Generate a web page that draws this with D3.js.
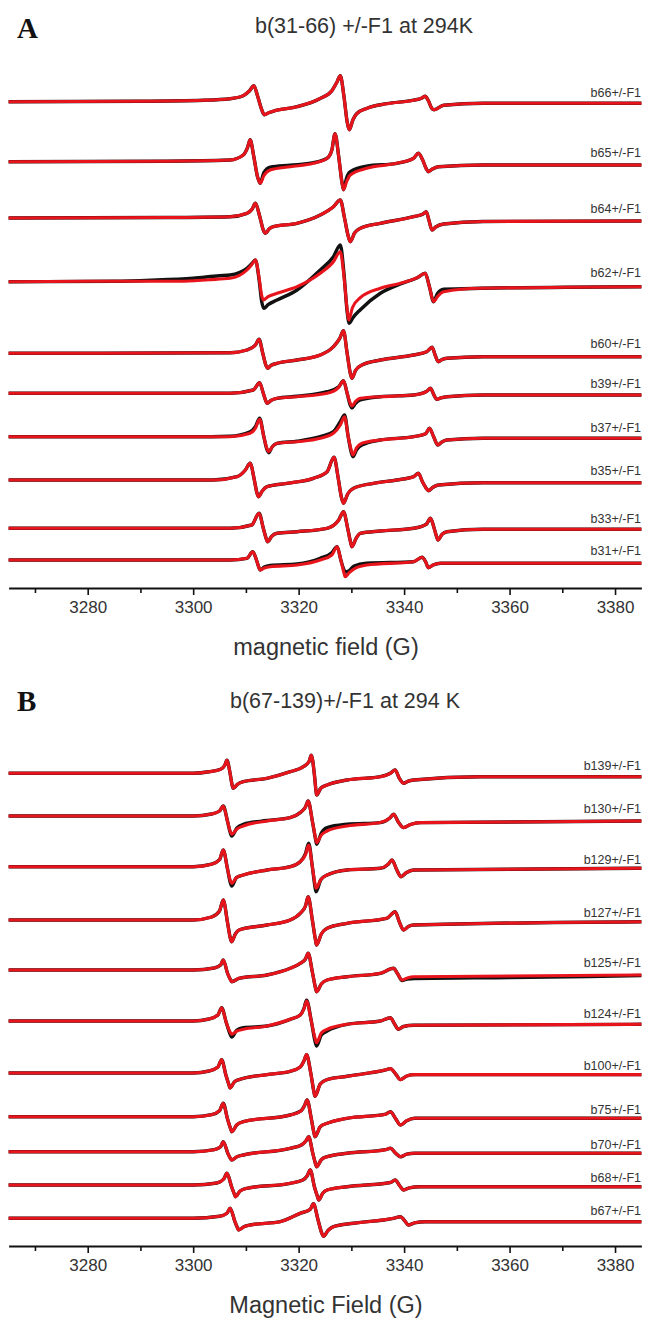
<!DOCTYPE html>
<html>
<head>
<meta charset="utf-8">
<script src="https://cdn.jsdelivr.net/npm/d3@7"></script>
<style>
  body { margin: 0; background: #fff; }
  svg { display: block; font-family: "Liberation Sans", Arial, sans-serif; }
</style>
</head>
<body>
<div id="chart"></div>
<script>
// ---- data: field in G, signal as [field, intensity] ----

const fieldDomain = [3265, 3385];
const majorTicks = [3280, 3300, 3320, 3340, 3360, 3380];
const minorTicks = [3270, 3290, 3310, 3330, 3350, 3370];

// panel A
const labelsA = ["b66+/-F1", "b65+/-F1", "b64+/-F1", "b62+/-F1", "b60+/-F1",
  "b39+/-F1", "b37+/-F1", "b35+/-F1", "b33+/-F1", "b31+/-F1"];
const offsetsA = [486.3, 426.3, 370, 306.3, 234.7, 194.7, 151.3, 108, 59.7, 28];

const redA66 = [[3265,0],[3290,0.5],[3302,1.5],[3307,3],[3309.5,6],[3310.7,11],[3311.5,16],[3312.2,6],[3313,-8],[3313.5,-13],[3314.3,-11],[3315.5,-9],[3319.7,-5],[3324,3],[3326.3,11],[3327.3,20],[3327.9,26],[3328.6,5],[3329.2,-20],[3329.6,-28],[3330.3,-18],[3331,-12],[3333,-6.5],[3336.7,-2],[3341.8,1.5],[3343.3,3.5],[3344,5.5],[3344.6,1],[3345.3,-7],[3345.7,-8],[3347.5,-3.5],[3355,-1.5],[3385,-1.5]];
const redA65 = [[3265,0],[3295,0.5],[3307,1.7],[3309.5,6.7],[3310.3,14],[3310.8,22],[3311.5,5],[3312.2,-15],[3312.7,-21.6],[3313.4,-14],[3314.6,-8.3],[3318.4,-5],[3322.8,-1.6],[3325.4,3.4],[3326.3,11.7],[3326.9,28],[3327.6,5],[3328.2,-20],[3328.5,-28],[3329.1,-20],[3329.8,-13.3],[3332.9,-6.6],[3338.6,-1.6],[3341.8,3.4],[3342.7,8.4],[3343.5,2],[3344.2,-7],[3344.6,-10],[3345.3,-7.5],[3346.5,-5],[3355,-3.3],[3385,-3.3]];
const blackA65 = [[3265,0],[3295,0.5],[3307,1.7],[3309.5,6.7],[3310.3,14],[3310.8,22],[3311.5,5],[3312.2,-15],[3312.7,-21.6],[3313.4,-11],[3314.6,-5.5],[3318.4,-3.5],[3322.8,-1],[3325.4,3.4],[3326.3,11.7],[3326.9,28],[3327.6,5],[3328.2,-20],[3328.5,-28],[3329.1,-16],[3329.8,-10],[3332.9,-4.5],[3338.6,-1.6],[3341.8,3.4],[3342.7,8.4],[3343.5,2],[3344.2,-7],[3344.6,-10],[3345.3,-7.5],[3346.5,-5],[3355,-3.3],[3385,-3.3]];
const redA64 = [[3265,0],[3295,0.5],[3307,1.3],[3310.2,4.7],[3311.2,9],[3311.8,14.7],[3312.6,2],[3313.3,-12],[3313.7,-15.3],[3314.4,-11],[3315.2,-8.7],[3319.7,-5.3],[3324.1,3],[3326.6,11.3],[3327.9,18],[3328.7,0],[3329.4,-18],[3329.8,-23.7],[3330.6,-15],[3331.7,-10.3],[3335.5,-5.3],[3341.8,1.3],[3343.6,4],[3344.2,6.3],[3344.7,-2],[3345.3,-12],[3346,-9],[3347.5,-6],[3355,-3.5],[3385,-3]];
const redA62 = [[3265,0],[3285,0.5],[3297.5,0.5],[3303,2],[3307,3.4],[3310.2,11.7],[3311.1,17],[3311.8,21.7],[3312.5,4],[3313,-14],[3313.3,-18.3],[3314.2,-15],[3315.9,-11.6],[3319.7,-5],[3324.1,8.4],[3326.6,20],[3327.9,30],[3328.6,5],[3329.2,-28],[3329.5,-38.3],[3330.2,-26],[3331.7,-16],[3335.5,-6.6],[3339.3,-1.6],[3342.5,4],[3344,8.4],[3344.8,-5],[3345.6,-20],[3346.3,-15],[3347.5,-10],[3354.5,-6.6],[3385,-5]];
const blackA62 = [[3265,0],[3285,0.5],[3292,1.5],[3300,3.5],[3305,6],[3307,6.7],[3310.2,13.4],[3311.1,18],[3311.8,21.7],[3312.5,2],[3313,-20],[3313.4,-26.6],[3314.2,-23],[3315.9,-18.3],[3319.7,-8.3],[3324.1,11.7],[3326.6,25],[3327.9,36.7],[3328.6,8],[3329.2,-30],[3329.6,-41.6],[3330.3,-36],[3331.7,-28],[3335.5,-11.6],[3339.3,-2.3],[3342.5,4],[3344,8.4],[3344.8,-5],[3345.6,-20],[3346.3,-12],[3347.5,-7.6],[3354.5,-6.6],[3385,-5]];
const redA60 = [[3265,0],[3295,0.3],[3307,0.6],[3310.2,3.3],[3311.8,8.3],[3312.5,14],[3313.2,0],[3313.8,-12],[3314.1,-15],[3314.8,-12],[3315.9,-10],[3319.7,-6.7],[3324.1,-1.7],[3326.6,6.6],[3327.8,15],[3328.5,22.6],[3329.2,0],[3329.8,-20],[3330.1,-25],[3330.8,-17],[3332,-11.7],[3335.5,-6.7],[3341.8,-1.7],[3344.3,1.6],[3345.3,6],[3345.9,-2],[3346.5,-8.4],[3347.1,-6.5],[3348.1,-5],[3355,-3.4],[3385,-3.4]];
const redA39 = [[3265,0],[3300,0],[3307,0],[3311.4,3.3],[3312.6,10.6],[3313.3,0],[3313.8,-8],[3314,-10],[3314.8,-7],[3315.9,-5],[3319.7,-3.4],[3325.4,0],[3327.6,6],[3328.5,12.6],[3329.2,0],[3329.8,-10],[3330.1,-12.7],[3330.8,-8],[3331.7,-5],[3335.5,-3.4],[3341.8,-1.7],[3344.3,2],[3345,5],[3345.6,-1],[3346.2,-6],[3347,-4.5],[3348.1,-3.4],[3355,-1.7],[3385,-1.7]];
const blackA39 = [[3265,0],[3300,0],[3307,0],[3311.4,3.3],[3312.6,10.6],[3313.3,0],[3313.8,-8],[3314,-10],[3314.8,-7],[3315.9,-5],[3319.7,-3],[3325.4,1.6],[3327.6,6.5],[3328.5,12.6],[3329.2,0],[3329.8,-12],[3330.1,-14.7],[3330.8,-10],[3331.7,-6.7],[3335.5,-3.4],[3341.8,-1.7],[3344.3,2],[3345,5],[3345.6,-1],[3346.2,-6],[3347,-4.5],[3348.1,-3.4],[3355,-1.7],[3385,-1.7]];
const redA37 = [[3265,0],[3300,0],[3307,0],[3310.8,3.4],[3311.8,8.4],[3312.6,17.4],[3313.4,0],[3314,-12],[3314.3,-15],[3315,-10],[3315.9,-6.6],[3319.7,-5],[3324.1,-1.6],[3326.6,3.4],[3327.9,11.7],[3328.7,20],[3329.4,0],[3330,-14],[3330.3,-18.3],[3331,-11],[3332,-6.6],[3335.5,-3.3],[3341.8,0],[3344.1,3],[3344.8,8.4],[3345.6,0],[3346.4,-8.3],[3347.1,-5.5],[3348.1,-3.3],[3355,-1.6],[3385,-1.6]];
const blackA37 = [[3265,0],[3300,0],[3307,0.5],[3310.8,5],[3311.8,10],[3312.6,18.4],[3313.4,0],[3314,-13],[3314.3,-16],[3315,-10],[3315.9,-6.6],[3319.7,-4.5],[3324.1,0],[3326.6,5],[3327.9,15],[3328.7,21.7],[3329.4,0],[3330,-16],[3330.3,-20],[3331,-13],[3332,-8.3],[3335.5,-3.3],[3341.8,0],[3344.1,3],[3344.8,8.4],[3345.6,0],[3346.4,-8.3],[3347.1,-5.5],[3348.1,-3.3],[3355,-1.6],[3385,-1.6]];
const redA35 = [[3265,0],[3303.8,0],[3308.3,3.3],[3309.9,10],[3310.8,16.7],[3311.6,0],[3312.1,-13],[3312.4,-16.7],[3313.1,-11],[3314,-6.7],[3317.8,-3.3],[3322.8,1.7],[3325.4,8.3],[3326.7,22.7],[3327.5,2],[3328.1,-17],[3328.5,-23.3],[3329.3,-14],[3330.4,-8.3],[3334.2,-3.3],[3338.6,0],[3341.8,3.3],[3342.7,6.7],[3343.5,-2],[3344.3,-9],[3344.6,-10.7],[3345.4,-7.5],[3346.5,-5],[3355,-2.7],[3385,-2.7]];
const redA33 = [[3265,0],[3307,0],[3311.1,3.3],[3312.5,15],[3313.3,0],[3313.9,-11],[3314.1,-13.4],[3314.9,-8],[3315.9,-5],[3319.7,-3.4],[3325.4,0],[3327.6,8.3],[3328.5,16.6],[3329.3,0],[3329.9,-15],[3330.1,-18.4],[3330.9,-10],[3331.7,-5],[3335.5,-2.7],[3341.8,0],[3344.2,4],[3345,10],[3345.7,0],[3346.2,-9],[3346.4,-11.7],[3347.2,-6],[3348.1,-3.4],[3355,-1],[3385,-1]];
const redA31 = [[3265,0],[3307,0],[3310.2,1.7],[3311.3,8.3],[3312,0],[3312.5,-8],[3312.7,-10],[3313.5,-8],[3314.6,-6.7],[3319.7,-5],[3324.1,0],[3326.3,5],[3327.3,13.3],[3328,0],[3328.6,-13],[3328.8,-16.7],[3329.6,-12.7],[3330.5,-9],[3332.9,-5],[3341.8,-1.7],[3343.4,2.7],[3344.1,-2],[3344.6,-7.7],[3345.5,-5],[3346.9,-3.3],[3355,-3.3],[3385,-3.3]];
const blackA31 = [[3265,0],[3307,0],[3310.2,1.7],[3311.3,8.3],[3312,0],[3312.5,-8],[3312.7,-10],[3313.5,-7],[3314.6,-5.5],[3319.7,-4],[3324.1,1.7],[3326.3,7.3],[3327.3,13.3],[3328,0],[3328.6,-10],[3328.8,-12],[3329.6,-10.7],[3330.5,-6],[3332.9,-3.3],[3341.8,-1.7],[3343.4,2.7],[3344.1,-2],[3344.6,-7.7],[3345.5,-5],[3346.9,-3.3],[3355,-3.3],[3385,-3.3]];

const redA = [redA66, redA65, redA64, redA62, redA60, redA39, redA37, redA35, redA33, redA31];
const blackA = [redA66, blackA65, redA64, blackA62, redA60, blackA39, blackA37, redA35, redA33, blackA31];

// panel B
const labelsB = ["b139+/-F1", "b130+/-F1", "b129+/-F1", "b127+/-F1", "b125+/-F1",
  "b124+/-F1", "b100+/-F1", "b75+/-F1", "b70+/-F1", "b68+/-F1", "b67+/-F1"];
const offsetsB = [472.7, 430, 379.3, 326, 276, 225, 173, 129.3, 94.3, 61, 27.7];

const redB139 = [[3265,0],[3300,0],[3303,1.5],[3305.2,4],[3306,8],[3306.4,13],[3307,0],[3307.4,-12],[3307.6,-15],[3308.4,-11],[3309.5,-8.4],[3314,-5],[3318.4,1.6],[3320.9,6.6],[3322,12],[3322.4,18],[3323,-2],[3323.3,-18],[3323.4,-21.7],[3324.2,-15],[3325.4,-11.7],[3329.2,-6.7],[3335.5,-3.4],[3337.4,0],[3338.3,3.3],[3339.1,-5],[3339.9,-10],[3340.7,-8],[3341.8,-6.7],[3354.5,-3.4],[3385,-3.4]];
const redB130 = [[3265,0],[3300,0],[3303.5,2],[3305,5],[3305.7,10],[3306.5,-5],[3307,-15],[3307.3,-18.3],[3308.3,-13],[3309.5,-10],[3314,-5],[3318.4,-1.6],[3320.3,3.4],[3321.3,9],[3321.8,15],[3322.6,-5],[3323.2,-22],[3323.4,-26.6],[3324.3,-19],[3325.4,-15],[3329.2,-10],[3335.5,-6.6],[3337.3,-2],[3338,1.7],[3338.9,-6],[3339.9,-11.6],[3341.2,-8.5],[3343.1,-6.6],[3385,-5]];
const blackB130 = [[3265,0],[3300,0],[3303.5,2],[3305,5],[3305.7,10],[3306.5,-5],[3307,-16],[3307.3,-20],[3308.3,-12],[3309.5,-8.3],[3314,-4.5],[3318.4,-1.6],[3320.3,3.4],[3321.3,9],[3321.8,15],[3322.6,-5],[3323.2,-23],[3323.4,-28.3],[3324.3,-17],[3325.4,-11.6],[3329.2,-8.3],[3335.5,-6.6],[3337.3,-2],[3338,1.7],[3338.9,-6],[3339.9,-11.6],[3341.2,-8.5],[3343.1,-6.6],[3385,-5]];
const redB129 = [[3265,0],[3300,0],[3303.5,2.5],[3305,7],[3305.7,16.7],[3306.5,-2],[3307,-13],[3307.3,-16.6],[3308.2,-11],[3309.5,-8.3],[3314,-3.3],[3318.4,0],[3320.3,5],[3321.3,12],[3321.9,21.7],[3322.6,0],[3323.1,-17],[3323.3,-21.6],[3324.2,-13],[3325.4,-8.3],[3329.2,-3.3],[3335.5,-1.6],[3337,2.5],[3337.7,6.7],[3338.6,-3],[3339.4,-10],[3340.4,-6],[3341.8,-3.3],[3385,-1.6]];
const blackB129 = [[3265,0],[3300,0],[3303.5,2.5],[3305,7],[3305.7,16.7],[3306.5,-2],[3307,-15],[3307.3,-19.3],[3308.2,-11],[3309.5,-8.3],[3314,-3.3],[3318.4,0],[3320.3,5],[3321.3,13],[3321.9,23.4],[3322.6,0],[3323.1,-20],[3323.3,-25],[3324.2,-13],[3325.4,-8.3],[3329.2,-3.3],[3335.5,-1.6],[3337,2.5],[3337.7,6.7],[3338.6,-3],[3339.4,-10],[3340.4,-6],[3341.8,-3.3],[3385,-1.6]];
const redB127 = [[3265,0],[3300,0],[3303.5,3],[3305,9],[3305.7,20],[3306.5,-2],[3307,-17],[3307.3,-21.7],[3308,-14],[3308.7,-10],[3314,-5],[3318.4,0],[3320.3,6.7],[3321.3,14],[3321.8,23.3],[3322.6,0],[3323.2,-20],[3323.4,-25],[3324.3,-14],[3325.4,-8.3],[3329.2,-3.3],[3336.7,1.7],[3338.3,8.3],[3339.1,-2],[3339.9,-10],[3340.8,-6.5],[3341.8,-5],[3385,-1.7]];
const redB125 = [[3265,0],[3300,0],[3304,2],[3305.2,5],[3305.7,10],[3306.5,-3],[3307.1,-10],[3307.3,-11.7],[3308.7,-8.3],[3314,-5],[3318.4,1.7],[3320.3,6.7],[3321.3,11],[3321.8,16.7],[3322.6,-2],[3323.2,-18],[3323.4,-21.7],[3324.3,-14],[3325.4,-10],[3329.2,-6.7],[3335.5,-3.3],[3338,1.7],[3338.8,-4],[3339.6,-10],[3340.6,-8],[3341.8,-6.7],[3385,-5]];
const blackB125 = [[3265,0],[3300,0],[3304,2],[3305.2,5],[3305.7,10],[3306.5,-3],[3307.1,-10],[3307.3,-11.7],[3308.7,-8.3],[3314,-5],[3318.4,1.7],[3320.3,6.7],[3321.3,11],[3321.8,16.7],[3322.6,-2],[3323.2,-18],[3323.4,-21.7],[3324.3,-14],[3325.4,-10],[3329.2,-6.7],[3335.5,-3.3],[3338,1.7],[3338.8,-4],[3339.6,-10.5],[3340.6,-9],[3342,-8.5],[3360,-7.5],[3375,-6.5],[3385,-5.5]];
const redB124 = [[3265,0],[3300,0],[3303,2],[3304.7,6],[3305.4,13.3],[3306.3,-2],[3307,-11],[3307.3,-13.3],[3308.3,-10],[3309.5,-8.3],[3314,-5],[3318.4,1.7],[3320.3,6],[3321,12],[3321.5,20],[3322.4,0],[3323.1,-17],[3323.4,-21.7],[3324.3,-12],[3325.4,-8.3],[3329.2,-3.3],[3335.5,0],[3337.4,3.3],[3338.2,-3],[3338.9,-8.3],[3339.9,-5.5],[3341.8,-4.3],[3385,-3.3]];
const blackB124 = [[3265,0],[3300,0],[3303,2],[3304.7,6],[3305.4,13.3],[3306.3,-2],[3307,-13],[3307.3,-16],[3308.3,-9],[3309.5,-6.7],[3314,-5],[3318.4,1.7],[3320.3,6],[3321,12.5],[3321.5,20.7],[3322.4,0],[3323.1,-20],[3323.4,-25],[3324.3,-14],[3325.4,-10],[3329.2,-3.3],[3335.5,0],[3337.4,3.3],[3338.2,-3],[3338.9,-8.3],[3339.9,-5.5],[3341.8,-4.3],[3385,-3.3]];
const redB100 = [[3265,0],[3300,0],[3303,2],[3304.7,6],[3305.4,13.4],[3306.2,-2],[3306.8,-12],[3307,-15],[3307.8,-9],[3308.7,-6.6],[3314,-1.6],[3318.4,1.7],[3320.3,6],[3321,12],[3321.5,18.4],[3322.3,0],[3322.9,-19],[3323.1,-23.3],[3324.1,-11],[3325.4,-6.6],[3329.2,-3.3],[3336.7,3.4],[3337.4,4.4],[3338.4,-1],[3339.3,-6.6],[3340.5,-3],[3342,-1.6],[3385,-1.6]];
const redB75 = [[3265,0],[3300,0],[3303.5,2],[3305,6],[3305.7,13.4],[3306.5,-2],[3307.1,-12],[3307.3,-15],[3308.3,-8],[3309.5,-5],[3318.4,1.7],[3320.5,6],[3321.1,11],[3321.6,16.7],[3322.4,-2],[3322.9,-16],[3323.1,-20],[3324.1,-10],[3325.4,-6.6],[3329.2,-1.6],[3336.5,2.5],[3337.4,5],[3338.4,-2],[3339.3,-8.3],[3340.5,-4],[3342,-1.6],[3385,-1.6]];
const redB70 = [[3265,0],[3300,0],[3304,2],[3305.2,5],[3305.7,10],[3306.6,-2],[3307.1,-7],[3307.3,-8.3],[3308.3,-5],[3309.5,-3.3],[3318.4,3.4],[3320.6,7],[3321.4,11],[3321.9,15],[3322.7,-2],[3323.2,-12],[3323.4,-15],[3324.3,-8],[3325.4,-5],[3329.2,-1.6],[3336.5,2],[3337.4,3.4],[3338.4,-1.5],[3339.3,-5],[3340.5,-2.5],[3342,-1.6],[3385,-1.6]];
const redB68 = [[3265,0],[3300,0],[3304.5,2],[3305.8,6],[3306.4,11.7],[3307.3,-2],[3307.8,-9],[3308,-11.7],[3308.9,-6],[3310.2,-3.3],[3318.4,1.7],[3320.8,5],[3321.6,9],[3322.2,15],[3323,-2],[3323.6,-12],[3323.8,-15],[3324.6,-8],[3325.4,-5],[3329.2,-1.7],[3337.4,2.5],[3338.3,5],[3339.2,-1],[3339.9,-5],[3341,-2.8],[3343,-1.7],[3385,-1.7]];
const redB67 = [[3265,0],[3300,0],[3305,2],[3306.4,5],[3307,10],[3307.9,-3],[3308.4,-9.5],[3308.6,-11.7],[3309.6,-8.5],[3310.8,-6.7],[3316.5,-3.4],[3320.3,5],[3322.2,9],[3322.8,14.5],[3323.7,-2],[3324.4,-15],[3324.7,-18],[3325.6,-12],[3326.6,-8.4],[3330.4,-5],[3338,0],[3339.3,1.6],[3340.2,-3],[3340.8,-6.7],[3342,-4.5],[3344,-3.4],[3385,-3.4]];

const redB = [redB139, redB130, redB129, redB127, redB125, redB124, redB100, redB75, redB70, redB68, redB67];
const blackB = [redB139, blackB130, blackB129, redB127, blackB125, blackB124, redB100, redB75, redB70, redB68, redB67];

// ---- drawing ----
const width = 646, height = 1318;

const svg = d3.select("#chart")
  .append("svg")
  .attr("width", width)
  .attr("height", height);

const x = d3.scaleLinear().domain(fieldDomain).range([8.6, 641.4]);

function drawPanel(cfg) {
  const g = svg.append("g");
  // intensity scale, arbitrary units, one unit per pixel
  const y = d3.scaleLinear().domain([0, 600]).range([cfg.axisY, cfg.axisY - 600]);

  // panel letter and title
  g.append("text")
    .attr("x", 17)
    .attr("y", cfg.letterY)
    .attr("font-family", "'Liberation Serif', 'Times New Roman', serif")
    .attr("font-weight", "bold")
    .attr("font-size", 29)
    .attr("fill", "#111")
    .text(cfg.letter);

  g.append("text")
    .attr("x", cfg.titleX)
    .attr("y", cfg.titleY)
    .attr("text-anchor", "middle")
    .attr("font-size", 21.5)
    .attr("fill", "#333")
    .text(cfg.title);

  // spectra: black (experiment) under red (fit)
  cfg.offsets.forEach((off, i) => {
    const line = d3.line()
      .x((d) => x(d[0]))
      .y((d) => y(off + d[1]))
      .curve(d3.curveMonotoneX);

    g.append("path")
      .attr("d", line(cfg.black[i]))
      .attr("fill", "none")
      .attr("stroke", "#111")
      .attr("stroke-width", 3.4)
      .attr("stroke-linejoin", "round");

    g.append("path")
      .attr("d", line(cfg.red[i]))
      .attr("fill", "none")
      .attr("stroke", "#e8141c")
      .attr("stroke-width", 3.1)
      .attr("stroke-linejoin", "round");

    g.append("text")
      .attr("x", 641)
      .attr("y", y(off) - cfg.labelGap)
      .attr("text-anchor", "end")
      .attr("font-size", 12.5)
      .attr("fill", "#333")
      .text(cfg.labels[i]);
  });

  // x axis
  const minor = g.append("g")
    .attr("transform", `translate(0,${cfg.axisY})`)
    .call(d3.axisBottom(x).tickValues(minorTicks).tickSize(5).tickFormat(""));
  minor.select(".domain").remove();
  minor.selectAll("line").attr("stroke", "#111").attr("stroke-width", 1.6);

  const major = g.append("g")
    .attr("transform", `translate(0,${cfg.axisY})`)
    .call(d3.axisBottom(x).tickValues(majorTicks).tickSize(7).tickSizeOuter(0).tickPadding(6)
      .tickFormat(d3.format("d")));
  major.select(".domain").attr("stroke", "#111").attr("stroke-width", 1.8);
  major.selectAll("line").attr("stroke", "#111").attr("stroke-width", 1.6);
  major.selectAll("text")
    .attr("font-family", "'Liberation Sans', Arial, sans-serif")
    .attr("font-size", 17)
    .attr("fill", "#333");

  g.append("text")
    .attr("x", 326)
    .attr("y", cfg.axisY + 67)
    .attr("text-anchor", "middle")
    .attr("font-size", 23.5)
    .attr("fill", "#333")
    .text(cfg.xTitle);
}

drawPanel({
  letter: "A", letterY: 38,
  title: "b(31-66) +/-F1 at 294K", titleX: 364, titleY: 33,
  axisY: 588, labelGap: 5,
  labels: labelsA, offsets: offsetsA, red: redA, black: blackA,
  xTitle: "magnetic field (G)"
});

drawPanel({
  letter: "B", letterY: 711,
  title: "b(67-139)+/-F1 at 294 K", titleX: 345, titleY: 708,
  axisY: 1246, labelGap: 3,
  labels: labelsB, offsets: offsetsB, red: redB, black: blackB,
  xTitle: "Magnetic Field (G)"
});
</script>
</body>
</html>
